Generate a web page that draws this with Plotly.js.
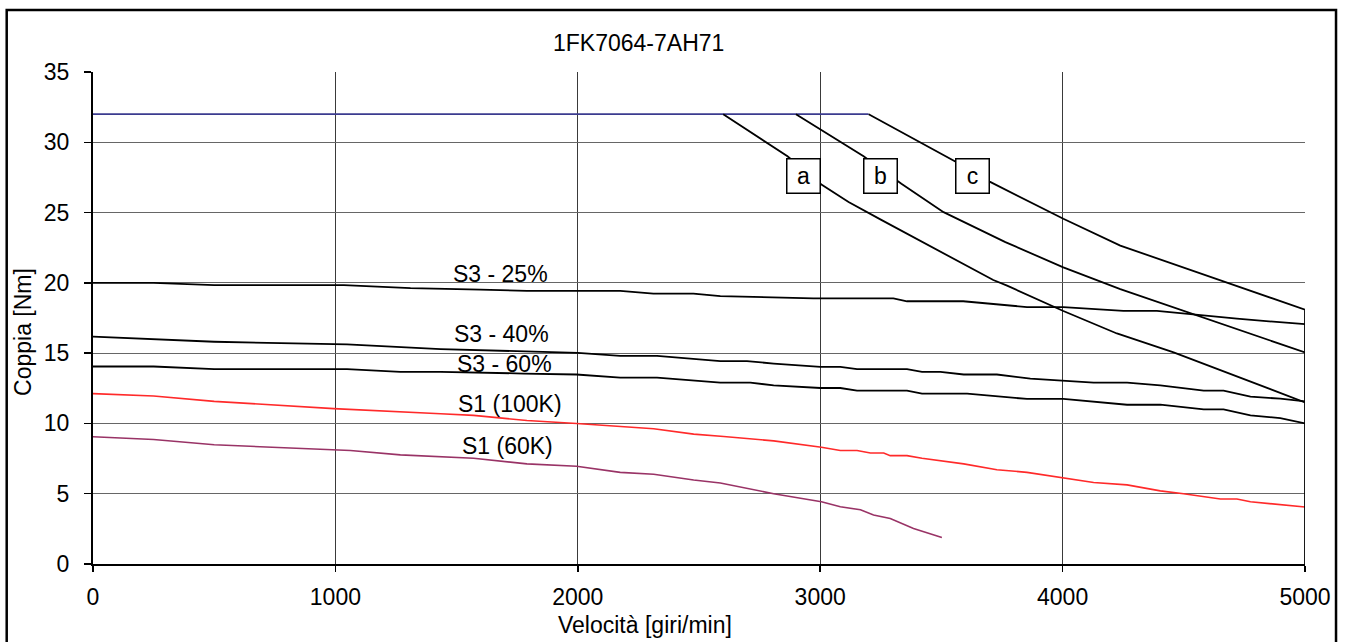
<!DOCTYPE html>
<html>
<head>
<meta charset="utf-8">
<script src="https://cdn.plot.ly/plotly-3.0.1.min.js"></script>
<style>
html,body{margin:0;padding:0;background:#fff;}
#chart{width:1345px;height:642px;}
</style>
</head>
<body>
<div id="chart"></div>
<script>
// ---- data ----
const chartTitle = "1FK7064-7AH71";
const xTitle = "Velocità [giri/min]";
const yTitle = "Coppia [Nm]";

const limitX = [0, 3200];
const limitY = [32, 32];

const aX = [2600, 2865, 3005, 3117, 3250, 3520, 3714, 3771, 4003, 4224, 4458, 5000];
const aY = [32, 29.0, 27.0, 25.75, 24.5, 22.0, 20.2, 19.8, 18.0, 16.4, 15.05, 11.5];

const bX = [2900, 3179, 3335, 3509, 3764, 4003, 4238, 5000];
const bY = [32, 29.0, 27.05, 25.03, 22.9, 21.1, 19.56, 15.05];

const cX = [3200, 3385, 3561, 3699, 4003, 4238, 5000, 5000];
const cY = [32, 30.26, 28.6, 27.2, 24.56, 22.65, 18.09, 0];

const s325X = [0, 250, 500, 1035, 1310, 1434, 1598, 1790, 2175, 2312, 2477, 2588, 2807, 2972, 3302, 3358, 3590, 3853, 4003, 4251, 4389, 4637, 4719, 5000];
const s325Y = [20.0, 20.0, 19.84, 19.84, 19.62, 19.6, 19.52, 19.43, 19.43, 19.24, 19.24, 19.06, 18.95, 18.9, 18.9, 18.69, 18.69, 18.28, 18.28, 18.0, 18.0, 17.59, 17.45, 17.06];

const s340X = [0, 250, 500, 1048, 1434, 2000, 2175, 2327, 2588, 2698, 2808, 3001, 3083, 3152, 3358, 3420, 3496, 3592, 3729, 3867, 4003, 4128, 4266, 4403, 4582, 4664, 4775, 4898, 5000];
const s340Y = [16.17, 15.98, 15.81, 15.62, 15.29, 15.02, 14.81, 14.81, 14.43, 14.43, 14.26, 14.02, 14.02, 13.86, 13.86, 13.67, 13.67, 13.48, 13.48, 13.19, 13.05, 12.9, 12.9, 12.71, 12.33, 12.33, 11.9, 11.76, 11.57];

const s360X = [0, 250, 500, 1048, 1268, 1434, 1776, 1994, 2175, 2327, 2588, 2712, 2808, 3001, 3083, 3152, 3358, 3420, 3606, 3853, 4003, 4266, 4403, 4582, 4664, 4775, 4898, 5000];
const s360Y = [14.05, 14.05, 13.86, 13.86, 13.67, 13.67, 13.55, 13.48, 13.26, 13.26, 12.9, 12.9, 12.71, 12.52, 12.52, 12.33, 12.33, 12.12, 12.12, 11.74, 11.74, 11.33, 11.33, 11.0, 11.0, 10.57, 10.38, 10.0];

const s1_100X = [0, 250, 500, 993, 1434, 1570, 1790, 1995, 2313, 2478, 2602, 2808, 3005, 3083, 3152, 3207, 3262, 3289, 3358, 3420, 3592, 3729, 3853, 4003, 4128, 4266, 4403, 4499, 4651, 4719, 4775, 5000];
const s1_100Y = [12.12, 11.95, 11.57, 11.05, 10.69, 10.57, 10.21, 10.0, 9.62, 9.24, 9.07, 8.76, 8.31, 8.07, 8.07, 7.9, 7.9, 7.71, 7.71, 7.52, 7.12, 6.71, 6.52, 6.1, 5.8, 5.63, 5.2, 5.0, 4.62, 4.62, 4.43, 4.05];

const s1_60X = [0, 250, 500, 993, 1062, 1268, 1434, 1570, 1790, 1995, 2175, 2313, 2478, 2588, 2808, 3005, 3083, 3166, 3220, 3289, 3385, 3502];
const s1_60Y = [9.05, 8.86, 8.48, 8.14, 8.07, 7.76, 7.62, 7.52, 7.12, 6.95, 6.52, 6.38, 5.98, 5.76, 5.0, 4.43, 4.07, 3.86, 3.48, 3.24, 2.52, 1.88];

const curveLabels = ["S3 - 25%", "S3 - 40%", "S3 - 60%", "S1 (100K)", "S1 (60K)"];
const curveLabelX = [1681, 1685, 1697, 1722, 1708];
const curveLabelY = [20.62, 16.34, 14.2, 11.41, 8.36];

const boxLabels = ["a", "b", "c"];
const boxLabelX = [2931, 3249, 3627];
const boxLabelY = [27.6, 27.6, 27.6];

const xTicks = [0, 1000, 2000, 3000, 4000, 5000];
const yTicks = [0, 5, 10, 15, 20, 25, 30, 35];

// ---- build chart ----
const FONT = "Liberation Sans, Arial, Helvetica, sans-serif";
const FS = 23;

function line(x, y, color, width) {
  return {x: x, y: y, type: "scatter", mode: "lines", hoverinfo: "skip",
          line: {color: color, width: width}, showlegend: false};
}

const traces = [
  line(limitX, limitY, "#3b3b8f", 1.6),
  line(s325X, s325Y, "#000000", 1.8),
  line(s340X, s340Y, "#000000", 1.8),
  line(s360X, s360Y, "#000000", 1.8),
  line(s1_100X, s1_100Y, "#ff2a2a", 1.6),
  line(s1_60X, s1_60Y, "#993366", 1.6),
  line(aX, aY, "#000000", 1.8),
  line(bX, bY, "#000000", 1.8),
  line(cX, cY, "#000000", 1.8)
];

const annotations = [];
curveLabels.forEach((t, i) => annotations.push({
  x: curveLabelX[i], y: curveLabelY[i], xref: "x", yref: "y", text: t,
  showarrow: false, xanchor: "center", yanchor: "middle",
  font: {family: FONT, size: FS, color: "#000"}
}));
boxLabels.forEach((t, i) => annotations.push({
  x: boxLabelX[i], y: boxLabelY[i], xref: "x", yref: "y", text: t,
  showarrow: false, xanchor: "center", yanchor: "middle",
  bgcolor: "#ffffff", bordercolor: "#000000", borderwidth: 1.5, borderpad: 1,
  width: 30, height: 31,
  font: {family: FONT, size: FS, color: "#000"}
}));
annotations.push({x: 0.4497, y: 1.0596, xref: "paper", yref: "paper", text: chartTitle,
  showarrow: false, xanchor: "center", yanchor: "middle",
  font: {family: FONT, size: FS, color: "#000"}});
annotations.push({x: 0.4554, y: -0.124, xref: "paper", yref: "paper", text: xTitle,
  showarrow: false, xanchor: "center", yanchor: "middle",
  font: {family: FONT, size: FS, color: "#000"}});
annotations.push({x: -0.0578, y: 0.4715, xref: "paper", yref: "paper", text: yTitle,
  showarrow: false, xanchor: "center", yanchor: "middle", textangle: -90,
  font: {family: FONT, size: FS, color: "#000"}});

const layout = {
  width: 1345, height: 642,
  margin: {l: 93, r: 40, t: 72, b: 78, pad: 0},
  paper_bgcolor: "#ffffff", plot_bgcolor: "#ffffff",
  font: {family: FONT, size: FS, color: "#000"},
  showlegend: false,
  xaxis: {
    range: [0, 5000], tickvals: xTicks, ticktext: xTicks.map(String),
    showgrid: true, gridcolor: "#3a3a3a", gridwidth: 1,
    zeroline: false, showline: true, linecolor: "#000", linewidth: 2,
    ticks: "outside", ticklen: 6, tickwidth: 1.5, tickcolor: "#000",
    ticklabelstandoff: 5,
    tickfont: {family: FONT, size: FS, color: "#000"}, fixedrange: true
  },
  yaxis: {
    range: [0, 35], tickvals: yTicks, ticktext: yTicks.map(String),
    showgrid: true, gridcolor: "#666666", gridwidth: 1,
    zeroline: false, showline: true, linecolor: "#000", linewidth: 2,
    ticks: "outside", ticklen: 7, tickwidth: 1.5, tickcolor: "#000",
    ticklabelstandoff: 10,
    tickfont: {family: FONT, size: FS, color: "#000"}, fixedrange: true
  },
  annotations: annotations,
  shapes: [
    {type: "rect", xref: "paper", yref: "paper", x0: -0.0712, x1: 1.0256, y0: -0.2, y1: 1.126,
     line: {color: "#000", width: 2.5}, fillcolor: "rgba(0,0,0,0)", layer: "above"}
  ]
};

Plotly.newPlot("chart", traces, layout, {staticPlot: true, displayModeBar: false});
</script>
</body>
</html>
